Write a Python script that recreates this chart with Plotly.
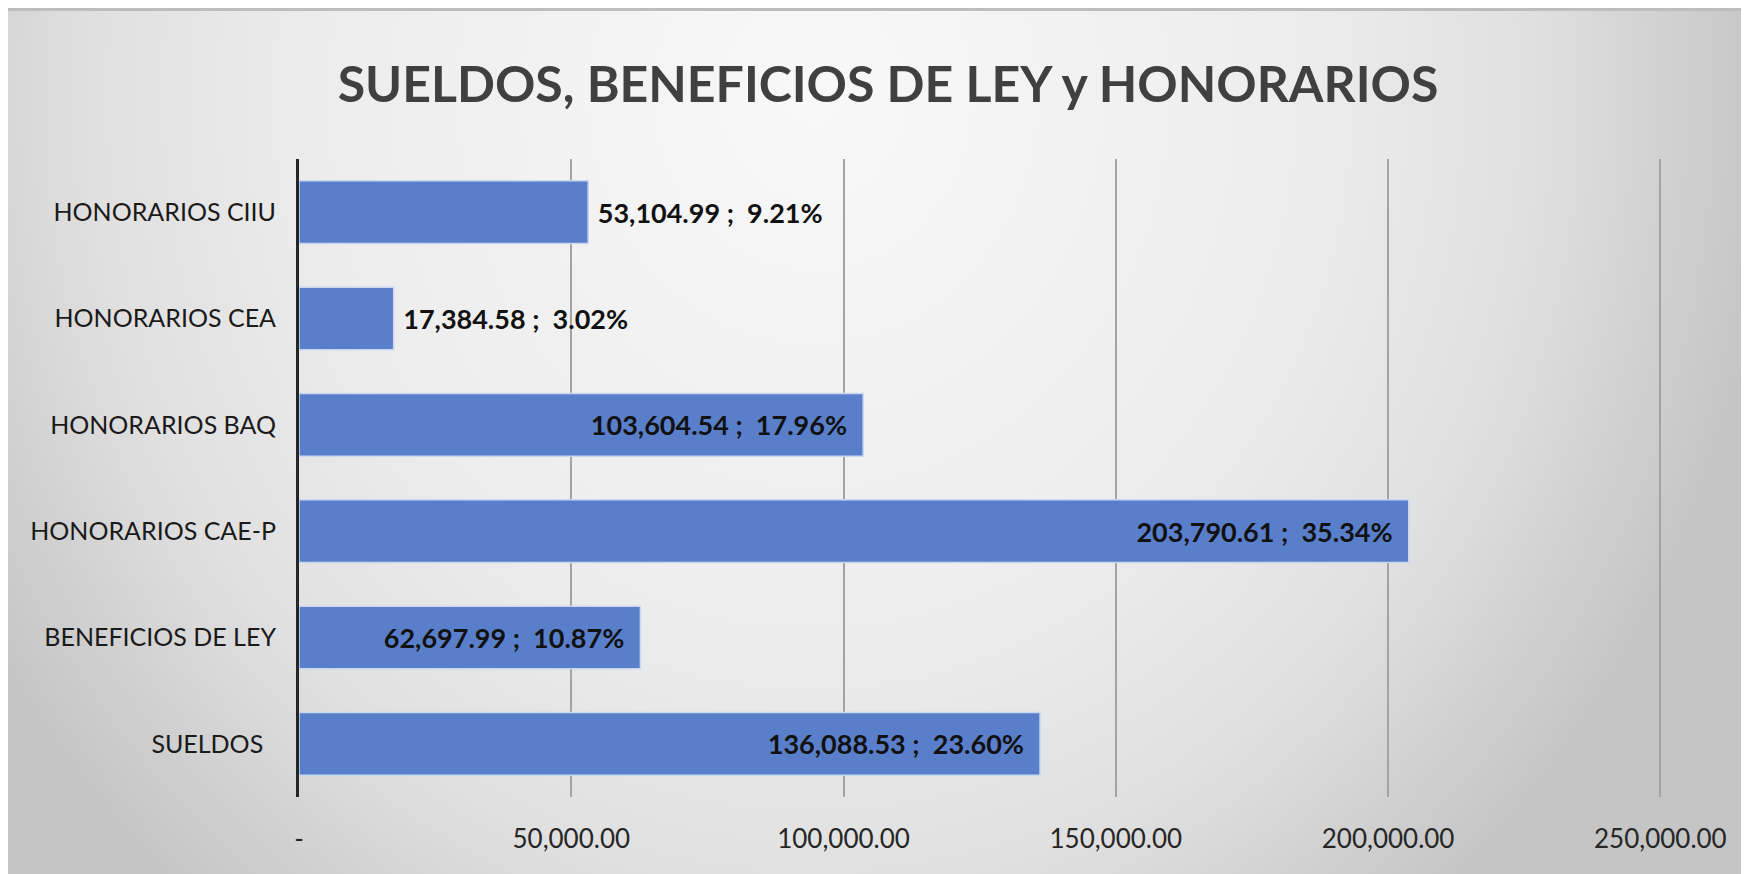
import base64
import plotly.graph_objects as go

categories = ["SUELDOS\u00a0\u00a0", "BENEFICIOS DE LEY", "HONORARIOS CAE-P",
              "HONORARIOS BAQ", "HONORARIOS CEA", "HONORARIOS CIIU"]
values = [136088.53, 62697.99, 203790.61, 103604.54, 17384.58, 53104.99]
percents = [23.60, 10.87, 35.34, 17.96, 3.02, 9.21]
label_positions = ["inside", "inside", "inside", "inside", "outside", "outside"]
tick_values = [0, 50000, 100000, 150000, 200000, 250000]
tick_labels = ["-", "50,000.00", "100,000.00", "150,000.00", "200,000.00", "250,000.00"]
title_text = "SUELDOS, BENEFICIOS DE LEY y HONORARIOS"

W, H = 1749, 874
L, R, T, B = 291, 95, 151, 85
x_max = 250300

texts = []
for v, p, pos in zip(values, percents, label_positions):
    s = f"{v:,.2f} ;\u00a0\u00a0{p:.2f}%"
    if pos == "outside":
        s = "\u00a0" + s
    else:
        s = s + "\u00a0\u00a0"
    texts.append(s)

svg = """<svg xmlns='http://www.w3.org/2000/svg' width='1749' height='874' viewBox='0 0 1749 874' preserveAspectRatio='none'>
<defs><radialGradient id='g' cx='0.46' cy='0.1' r='0.55' fx='0.46' fy='0.1'
 gradientTransform='translate(0.46,0.1) scale(1,2.2) translate(-0.46,-0.1)'>
<stop offset='0' stop-color='#f8f8f8'/>
<stop offset='0.5' stop-color='#ededed'/>
<stop offset='0.75' stop-color='#e0e0e0'/>
<stop offset='1' stop-color='#c5c5c5'/>
</radialGradient></defs>
<rect x='0' y='0' width='1749' height='874' fill='url(#g)'/>
<rect x='0' y='0' width='1749' height='3' fill='#bdbdbd'/>
</svg>"""
img_src = "data:image/svg+xml;base64," + base64.b64encode(svg.encode()).decode()

pw, ph = W - L - R, H - T - B

fig = go.Figure(go.Bar(
    y=categories, x=values, orientation="h",
    marker=dict(color="#5a7fca", line=dict(color="#c9d8f0", width=1.5)),
    text=texts, textposition=label_positions, insidetextanchor="end",
    textfont=dict(family="Lato", size=27, color="#111111", weight="bold"),
    constraintext="none", cliponaxis=False, width=0.59,
))

fig.update_layout(
    width=W, height=H,
    margin=dict(l=L, r=R, t=T, b=B, autoexpand=False),
    paper_bgcolor="white", plot_bgcolor="rgba(0,0,0,0)",
    showlegend=False,
    title=dict(text="<b>" + title_text + "</b>", x=880 / W, xanchor="center",
               y=1 - 76 / H, yanchor="middle",
               font=dict(family="Lato", size=50, color="#404040")),
    images=[dict(source=img_src, xref="paper", yref="paper",
                 x=-L / pw, y=1 + T / ph,
                 sizex=W / pw, sizey=H / ph,
                 sizing="stretch", xanchor="left", yanchor="top", layer="below")],
    xaxis=dict(range=[0, x_max], tickvals=tick_values, ticktext=tick_labels,
               showgrid=True, gridcolor="#a3a3a3", gridwidth=1.5,
               zeroline=False, showline=False, ticks="",
               tickfont=dict(family="Lato", size=26, color="#262626"),
               ticklabelstandoff=24),
    yaxis=dict(showline=True, linecolor="#262626", linewidth=3,
               showgrid=False, ticks="", categoryorder="array",
               categoryarray=categories,
               tickfont=dict(family="Lato", size=25, color="#1a1a1a"),
               ticklabelstandoff=15),
)

fig.write_html("out.html")
